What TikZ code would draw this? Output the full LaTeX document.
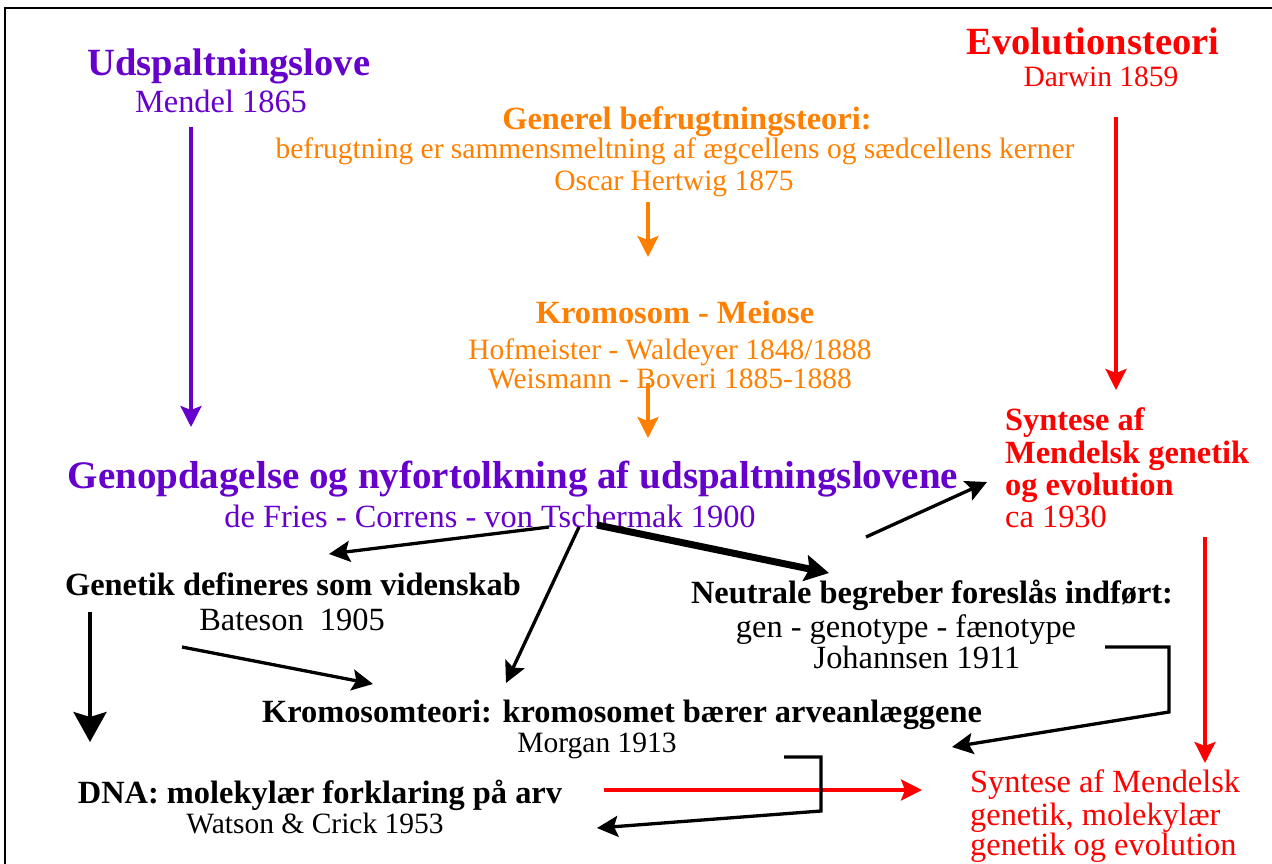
\documentclass[tikz,border=0pt]{standalone}
\usepackage{fontspec}
\setmainfont{Liberation Serif}
\usetikzlibrary{positioning, calc, arrows.meta}
\definecolor{lilla}{RGB}{102,0,204}
\definecolor{orangefarve}{RGB}{255,128,0}

\tikzset{
  overskrift/.style={font=\fontsize{38.5}{44}\selectfont\bfseries, inner sep=0pt, anchor=base},
  emne/.style={font=\fontsize{32.4}{38}\selectfont\bfseries, inner sep=0pt, anchor=base},
  tekst/.style={font=\fontsize{29.5}{34}\selectfont, inner sep=0pt, anchor=base},
  tekststor/.style={font=\fontsize{32.4}{38}\selectfont, inner sep=0pt, anchor=base},
  pil/.style={line width=3.3pt, -{Stealth[length=21pt,width=21pt,inset=4pt]}},
  tykpil/.style={line width=7pt, -{Stealth[length=24pt,width=26pt,inset=4pt]}},
  storpil/.style={line width=3.5pt, -{Stealth[length=30pt,width=33pt,inset=5pt]}}
}

\begin{document}
\begin{tikzpicture}[x=1pt, y=-1pt]
  \useasboundingbox (0,0) rectangle (1272,864);
  \draw[line width=1.3pt] (5,864) -- (5,8) -- (1272,8);

  % Mendel og Darwin
  \node[overskrift, lilla] (udsp) at (229,76) {Udspaltningslove};
  \node[tekststor, lilla] (mendel) at (221,113) {Mendel 1865};
  \node[overskrift, red] (evol) at (1093,55) {Evolutionsteori};
  \node[tekst, red] (darwin) at (1101,87) {Darwin 1859};

  % befrugtning og kromosomer
  \node[emne, orangefarve] (befr) at (687,130) {Generel befrugtningsteori:};
  \node[tekst, orangefarve] (befrtekst) at (675,159) {befrugtning er sammensmeltning af ægcellens og sædcellens kerner};
  \node[tekst, orangefarve] (hertwig) at (674,190) {Oscar Hertwig 1875};
  \node[emne, orangefarve] (krom) at (675,323) {Kromosom - Meiose};
  \node[tekst, orangefarve] (hofm) at (670,359) {Hofmeister - Waldeyer 1848/1888};
  \node[tekst, orangefarve] (weism) at (670,388) {Weismann - Boveri 1885-1888};

  % genopdagelse
  \node[overskrift, lilla, font=\fontsize{39}{44}\selectfont\bfseries] (genop) at (513,488) {Genopdagelse og nyfortolkning af udspaltningslovene};
  \node[tekststor, lilla] (defries) at (490,527) {de Fries - Correns - von Tschermak 1900};

  % syntese ca 1930
  \node[emne, red, anchor=base west] (syn1) at (1005,430) {Syntese af};
  \node[emne, red, anchor=base west] (syn2) at (1005,463) {Mendelsk genetik};
  \node[emne, red, anchor=base west] (syn3) at (1005,495) {og evolution};
  \node[tekststor, red, anchor=base west] (syn4) at (1005,527) {ca 1930};

  % genetik
  \node[emne] (genetik) at (293,595) {Genetik defineres som videnskab};
  \node[tekststor] (bateson) at (292,630) {Bateson\ \ 1905};
  \node[emne] (neutral) at (932,603) {Neutrale begreber foreslås indført:};
  \node[tekststor] (gen) at (906,637) {gen - genotype - fænotype};
  \node[tekststor] (johannsen) at (917,668) {Johannsen 1911};
  \node[emne] (kromteori) at (622,722) {Kromosomteori: kromosomet bærer arveanlæggene};
  \node[tekst] (morgan) at (597,752) {Morgan 1913};
  \node[emne] (dna) at (320,803) {DNA: molekylær forklaring på arv};
  \node[tekst] (watson) at (315,833) {Watson \& Crick 1953};

  % syntese til sidst
  \node[tekststor, red, anchor=base west] (slut1) at (970,792) {Syntese af Mendelsk};
  \node[tekststor, red, anchor=base west] (slut2) at (970,825) {genetik, molekylær};
  \node[tekststor, red, anchor=base west] (slut3) at (970,855) {genetik og evolution};

  % pile
  \draw[pil, lilla] ($(mendel.base)+(-30,14)$) -- ($(genop.base)+(-322,-61)$);
  \draw[pil, orangefarve] ($(hertwig.base)+(-26,12)$) -- ($(krom.base)+(-27,-66)$);
  \draw[pil, orangefarve] ($(weism.base)+(-22,-5)$) -- ($(genop.base)+(135,-50)$);
  \draw[pil, red] ($(darwin.base)+(15,30)$) -- ($(syn1.base west)+(111,-40)$);
  \draw[pil, red] ($(syn4.base west)+(200,10)$) -- ($(slut1.base west)+(235,-29)$);
  \draw[pil, red] ($(dna.base)+(284,-13)$) -- ($(slut1.base west)+(-48,-2)$);
  \draw[pil] ($(defries.base)+(59,0)$) -- ($(genetik.base)+(36,-41)$);
  \draw[pil] ($(defries.base)+(89,0)$) -- ($(kromteori.base)+(-116,-39)$);
  \draw[tykpil] ($(defries.base)+(107,-2)$) -- ($(neutral.base)+(-103,-30)$);
  \draw[pil] ($(defries.base)+(376,10)$) -- ($(syn2.base west)+(-18,19)$);
  \draw[pil] ($(bateson.base)+(-110,17)$) -- ($(kromteori.base)+(-249,-38)$);
  \draw[storpil] ($(genetik.base)+(-203,17)$) -- ($(dna.base)+(-230,-61)$);
  \draw[pil] ($(gen.base)+(199,10)$) -- ++(64,0) -- ++(0,65) -- ($(slut1.base west)+(-18,-45)$);
  \draw[pil] ($(morgan.base)+(187,5)$) -- ++(37,0) -- ++(0,54) -- ($(watson.base)+(282,-5)$);
\end{tikzpicture}
\end{document}
